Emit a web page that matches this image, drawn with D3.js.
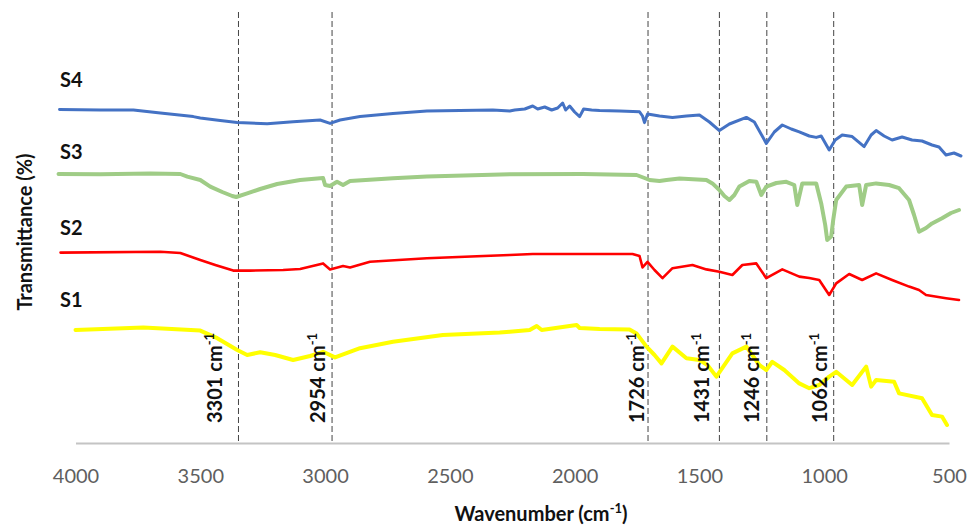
<!DOCTYPE html>
<html>
<head>
<meta charset="utf-8">
<script src="https://cdn.jsdelivr.net/npm/d3@7"></script>
<style>
  html, body { margin: 0; padding: 0; background: #fff; }
  svg { display: block; }
</style>
</head>
<body>
<svg id="chart" width="970" height="527"></svg>
<script>
// ---------- DATA ----------
const xTicks = [4000, 3500, 3000, 2500, 2000, 1500, 1000, 500];
const seriesNames = ["S1", "S2", "S3", "S4"];

// [wavenumber (cm-1), transmittance (%, offset-stacked)]
const s4 = [
  [4064,83.4],[3900,83.25],[3768,83.25],[3660,82.5],[3528,81.6],[3500,81.25],[3420,80.6],[3352,80.1],
  [3232,79.8],[3128,80.3],[3020,80.75],[2980,79.9],[2940,80.75],[2860,81.6],[2728,82.4],[2592,83],
  [2328,83.25],[2260,83],[2240,83.25],[2200,83.5],[2168,84.25],[2148,83.5],[2120,84],[2092,83.25],
  [2068,83.75],[2048,85],[2036,83.25],[2020,84.25],[2000,82.75],[1980,81.6],[1964,83.5],[1932,83.25],
  [1900,83.1],[1820,83],[1740,82.8],[1728,81.75],[1720,80.1],[1708,82.25],[1660,81.75],[1608,81.4],
  [1552,81.75],[1500,82],[1460,80.25],[1420,78.1],[1380,79.75],[1312,81.4],[1280,80.25],[1232,74.9],
  [1200,77.75],[1168,79.5],[1132,78.5],[1100,77.8],[1060,76.75],[1032,76.4],[1012,76.75],[980,73.25],
  [956,75.75],[928,77],[888,76.6],[840,74.1],[812,77],[792,78.1],[760,76.75],[728,75.75],[688,76.5],
  [648,75.75],[608,75.5],[568,74.5],[540,74],[512,72],[480,72.5],[452,71.75]
];
const s3 = [
  [4068,67.25],[3900,67.2],[3700,67.4],[3580,67.25],[3552,66.6],[3500,65.75],[3460,64.1],[3412,62.75],
  [3372,61.75],[3356,61.5],[3312,62.4],[3260,63.5],[3192,64.75],[3100,65.75],[3020,66.2],[3008,66.25],
  [3000,64.5],[2980,64.25],[2952,65.3],[2928,64.5],[2900,65.5],[2728,66.2],[2592,66.6],[2260,67.2],
  [1968,67.25],[1752,67],[1720,66.25],[1700,65.75],[1660,65.5],[1632,65.75],[1580,66.1],[1472,65.75],
  [1448,64.9],[1420,63.25],[1400,61.75],[1380,60.75],[1360,62],[1340,64.1],[1300,65.5],[1272,65.3],
  [1252,62],[1232,64.1],[1192,65],[1152,65.3],[1120,64.5],[1108,59.5],[1088,64.9],[1032,64.9],
  [1012,59.9],[996,54.5],[988,50.75],[972,51.6],[964,55.75],[952,60.75],[912,64.1],[860,64.5],
  [848,59.5],[832,64.5],[792,64.9],[740,64.5],[700,63.7],[660,60.75],[640,57],[620,52.8],[592,53.75],
  [568,54.9],[528,56.2],[492,57.5],[460,58.25]
];
const s2 = [
  [4060,47.6],[3660,47.8],[3580,47.5],[3500,45.75],[3440,44.5],[3368,43.1],[3300,43.1],[3168,43.25],
  [3100,43.5],[3008,44.9],[2980,43.4],[2928,44.25],[2900,43.9],[2820,45.3],[2592,46.2],[2260,47],
  [2168,47.25],[1768,47.25],[1740,46.75],[1728,43.9],[1708,45.3],[1680,43.25],[1648,41.2],[1608,43.7],
  [1528,44.5],[1472,43.4],[1420,42.8],[1368,42],[1328,44.5],[1272,44.9],[1232,41.2],[1168,43.4],
  [1100,41.6],[1060,41.25],[1020,40.75],[980,37],[952,39.9],[900,42.25],[848,40.75],[792,42.4],
  [728,40.75],[660,39.1],[620,38.25],[592,37],[512,36.2],[460,35.75]
];
const s1 = [
  [4000,28.25],[3728,28.9],[3500,28.1],[3432,26.2],[3352,23.25],[3312,22],[3260,22.7],[3200,22],
  [3128,20.75],[3060,21.75],[3008,22.8],[2960,21.4],[2860,23.7],[2728,25.3],[2528,27],[2300,27.6],
  [2260,27.8],[2180,28.25],[2152,29.25],[2132,28.25],[1992,29.5],[1980,28.75],[1900,28.5],[1780,28.4],
  [1752,27.4],[1712,24.1],[1680,22],[1652,19.9],[1608,24.1],[1552,21.2],[1500,20.75],[1468,19.5],
  [1432,16.6],[1368,22.4],[1312,24.1],[1260,19.5],[1232,18.25],[1208,20.3],[1160,18.25],[1100,14.9],
  [1060,13.7],[1020,14.5],[980,16.6],[952,17.8],[888,14.5],[832,19.1],[812,14.1],[792,15.75],
  [720,15.3],[700,12.4],[608,11.2],[568,7],[528,6.6],[508,4.5]
];
const seriesData = [s1, s2, s3, s4];
// peak marker lines (as drawn) and their labels
const peakLines = [3347, 2972, 1706, 1420, 1230, 962];
const peakLabels = ["3301", "2954", "1726", "1431", "1246", "1062"];

// ---------- DRAW ----------
const svg = d3.select("#chart");
const FONT = "Lato, 'Open Sans', 'DejaVu Sans', sans-serif";

const x = d3.scaleLinear().domain([4000, 500]).range([75.5, 949]);
const y = d3.scaleLinear().domain([0, 100]).range([443, 43]);

const colors = ["#FFFF00", "#FF0000", "#9FCC86", "#4472C4"];
const widths = [4, 2.6, 4, 3];
const labelBaselines = [307, 235, 159, 87];

// axis
const axis = d3.axisBottom(x).tickValues(xTicks).tickSize(0).tickSizeOuter(0).tickPadding(26)
  .tickFormat(d3.format("d"));
const gAxis = svg.append("g").attr("transform", "translate(0,443)").call(axis);
gAxis.select(".domain").attr("stroke", "#c4c4c4").attr("stroke-width", 2.2);
gAxis.selectAll("text").attr("font-family", FONT).attr("font-size", 20).attr("fill", "#5f5f5f");

// dashed peak lines
svg.append("g").selectAll("line").data(peakLines).join("line")
  .attr("x1", d => x(d)).attr("x2", d => x(d))
  .attr("y1", 12).attr("y2", 443)
  .attr("stroke", "#444").attr("stroke-width", 1)
  .attr("stroke-dasharray", "6,3");

// spectra
const line = d3.line().x(d => x(d[0])).y(d => y(d[1]));
svg.append("g").selectAll("path").data(seriesData).join("path")
  .attr("d", line)
  .attr("fill", "none")
  .attr("stroke", (d, i) => colors[i])
  .attr("stroke-width", (d, i) => widths[i])
  .attr("stroke-linejoin", "round")
  .attr("stroke-linecap", "round");

// series labels
svg.append("g").selectAll("text").data(seriesNames).join("text")
  .attr("x", 60).attr("y", (d, i) => labelBaselines[i])
  .attr("font-family", FONT).attr("font-weight", "bold").attr("font-size", 20)
  .attr("fill", "#111")
  .text(d => d);

// peak labels (rotated)
const labelDx = [-16, -7, -4, -10, -8, -7];
const pl = svg.append("g").selectAll("text").data(peakLabels).join("text")
  .attr("transform", (d, i) => `translate(${x(peakLines[i]) + labelDx[i]},423) rotate(-90)`)
  .attr("font-family", FONT).attr("font-weight", "bold").attr("font-size", 20)
  .attr("fill", "#111");
pl.append("tspan").text(d => d + " cm");
pl.append("tspan").attr("font-size", 13).attr("dy", -8).text("-1");

// axis titles
const xt = svg.append("text").attr("x", 541).attr("y", 521).attr("text-anchor", "middle")
  .attr("font-family", FONT).attr("font-weight", "bold").attr("font-size", 20).attr("fill", "#111");
xt.append("tspan").text("Wavenumber (cm");
xt.append("tspan").attr("font-size", 13).attr("dy", -8).text("-1");
xt.append("tspan").attr("dy", 8).text(")");

svg.append("text").attr("transform", "translate(32,232) rotate(-90)").attr("text-anchor", "middle")
  .attr("font-family", FONT).attr("font-weight", "bold").attr("font-size", 20).attr("fill", "#111")
  .text("Transmittance (%)");
</script>
</body>
</html>
